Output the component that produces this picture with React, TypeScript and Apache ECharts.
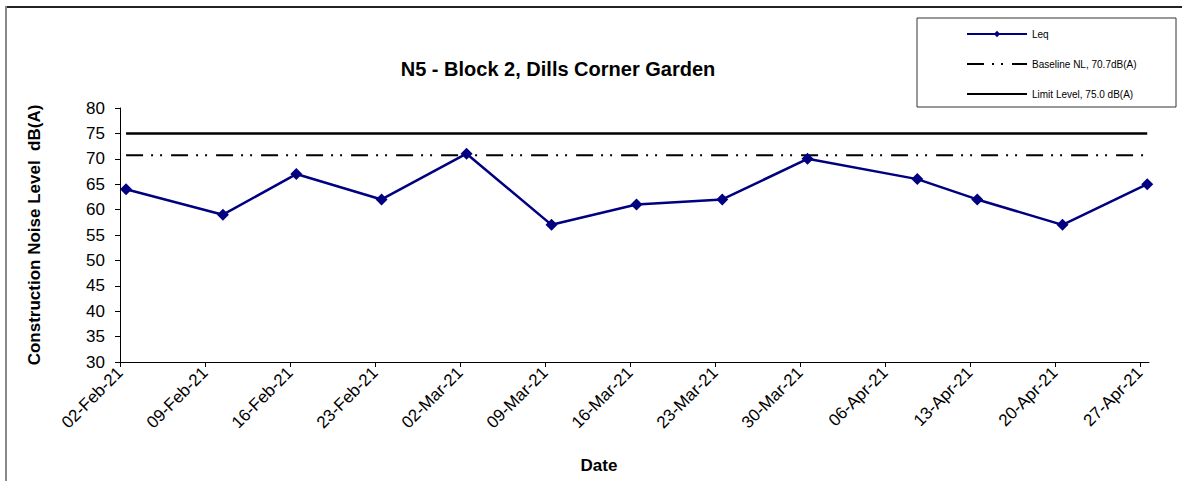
import React, { useEffect, useRef } from "react";
import * as echarts from "echarts";

const axisStart = "2021-02-02 00:00";
const measurementTimes = [
  "2021-02-02 12:00",
  "2021-02-10 11:30",
  "2021-02-16 12:30",
  "2021-02-23 13:00",
  "2021-03-02 13:00",
  "2021-03-09 13:00",
  "2021-03-16 13:00",
  "2021-03-23 14:30",
  "2021-03-30 15:00",
  "2021-04-08 16:00",
  "2021-04-13 14:30",
  "2021-04-20 15:00",
  "2021-04-27 14:30",
];
const leqValues = [64, 59, 67, 62, 71, 57, 61, 62, 70, 66, 62, 57, 65];
const baselineLevel = 70.7;
const limitLevel = 75.0;
const xTickLabels = [
  "02-Feb-21", "09-Feb-21", "16-Feb-21", "23-Feb-21", "02-Mar-21", "09-Mar-21",
  "16-Mar-21", "23-Mar-21", "30-Mar-21", "06-Apr-21", "13-Apr-21", "20-Apr-21", "27-Apr-21",
];
const xTickStepDays = 7;
const xMaxDays = 84.75;
const yMin = 30;
const yMax = 80;
const yStep = 5;

const titleText = "N5 - Block 2, Dills Corner Garden";
const yAxisTitle = "Construction Noise Level  dB(A)";
const xAxisTitle = "Date";
const seriesNames = ["Leq", "Baseline NL, 70.7dB(A)", "Limit Level, 75.0 dB(A)"];

function toMs(s: string): number {
  const [d, t] = s.split(" ");
  const [y, m, dd] = d.split("-").map(Number);
  const [hh, mm] = (t || "00:00").split(":").map(Number);
  return Date.UTC(y, m - 1, dd, hh, mm);
}
function toDays(s: string): number {
  return (toMs(s) - toMs(axisStart)) / 86400000;
}

export default function App() {
  const ref = useRef<HTMLDivElement>(null);
  useEffect(() => {
    if (!ref.current) return;
    const chart = echarts.init(ref.current, undefined, { renderer: "svg" });
    const xs = measurementTimes.map(toDays);
    const leqData = xs.map((x, i) => [x, leqValues[i]]);
    const first = xs[0];
    const last = xs[xs.length - 1];
    const tickValues = xTickLabels.map((_, i) => i * xTickStepDays);
    const font = "Arial, 'Liberation Sans', sans-serif";

    chart.setOption({
      animation: false,
      backgroundColor: "#ffffff",
      textStyle: { fontFamily: font },
      grid: { left: 120, top: 108, right: 33, bottom: 119, containLabel: false },
      legend: {
        orient: "vertical",
        left: 961,
        top: 24,
        itemWidth: 60,
        itemHeight: 8,
        itemGap: 20,
        textStyle: { fontSize: 10, color: "#000", fontFamily: font },
        data: [
          { name: seriesNames[0] },
          { name: seriesNames[1], itemStyle: { opacity: 0 } },
          { name: seriesNames[2], itemStyle: { opacity: 0 } },
        ],
      },
      graphic: [
        { type: "line", shape: { x1: 5, y1: 7, x2: 1182, y2: 7 }, style: { stroke: "#222", lineWidth: 2 } },
        { type: "line", shape: { x1: 6, y1: 6, x2: 6, y2: 481 }, style: { stroke: "#888", lineWidth: 2 } },
        { type: "rect", shape: { x: 917, y: 18, width: 259, height: 89 }, style: { fill: "#fff", stroke: "#333", lineWidth: 1 }, z: -1 },
        {
          type: "text", x: 558, y: 69,
          style: { text: titleText, font: `bold 20px ${font}`, fill: "#000", textAlign: "center", textVerticalAlign: "middle" },
        },
        {
          type: "text", x: 599, y: 465,
          style: { text: xAxisTitle, font: `bold 17px ${font}`, fill: "#000", textAlign: "center", textVerticalAlign: "middle" },
        },
      ],
      xAxis: {
        type: "value",
        min: 0,
        max: xMaxDays,
        interval: xTickStepDays,
        splitLine: { show: false },
        axisLine: { show: true, lineStyle: { color: "#000", width: 1 } },
        axisTick: { show: true, length: 5, lineStyle: { color: "#000" }, customValues: tickValues },
        axisLabel: {
          rotate: 45,
          fontSize: 17,
          color: "#000",
          margin: 8,
          customValues: tickValues,
          formatter: (v: number) => {
            const i = Math.round(v / xTickStepDays);
            return xTickLabels[i] ?? "";
          },
        },
      },
      yAxis: {
        type: "value",
        min: yMin,
        max: yMax,
        interval: yStep,
        name: yAxisTitle,
        nameLocation: "middle",
        nameGap: 77,
        nameTextStyle: { fontSize: 17, fontWeight: "bold", color: "#000" },
        splitLine: { show: false },
        axisLine: { show: true, lineStyle: { color: "#000", width: 1 } },
        axisTick: { show: true, length: 5, lineStyle: { color: "#000" } },
        axisLabel: { fontSize: 17, color: "#000", margin: 15 },
      },
      series: [
        {
          name: seriesNames[0],
          type: "line",
          data: leqData,
          symbol: "diamond",
          symbolSize: 12,
          lineStyle: { color: "#000080", width: 2.5 },
          itemStyle: { color: "#000080" },
          z: 5,
        },
        {
          name: seriesNames[1],
          type: "line",
          data: [[first, baselineLevel], [last, baselineLevel]],
          symbol: "none",
          lineStyle: { color: "#000", width: 2, type: [17, 8, 2, 7, 2, 9] },
          itemStyle: { color: "#000" },
          z: 3,
        },
        {
          name: seriesNames[2],
          type: "line",
          data: [[first, limitLevel], [last, limitLevel]],
          symbol: "none",
          lineStyle: { color: "#000", width: 2.5 },
          itemStyle: { color: "#000" },
          z: 3,
        },
      ],
    });
    return () => chart.dispose();
  }, []);
  return (
    <div
      ref={ref}
      style={{ position: "fixed", left: 0, top: 0, width: 1182, height: 481, background: "#fff" }}
    />
  );
}
